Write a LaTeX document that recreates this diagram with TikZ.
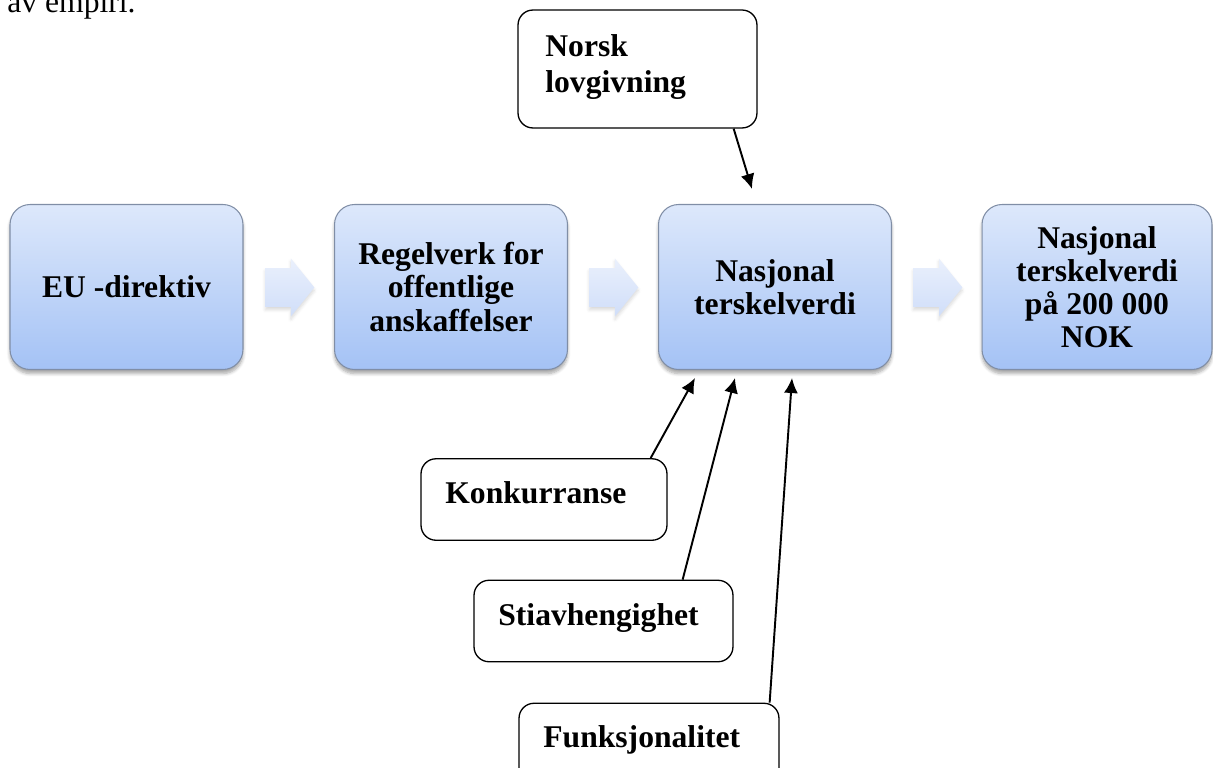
\documentclass[tikz,border=0pt]{standalone}
\usepackage{fontspec}
\setmainfont{Liberation Serif}
\usetikzlibrary{arrows.meta, positioning, shapes.arrows, shadows.blur, calc}
\definecolor{boxtop}{RGB}{221,232,251}
\definecolor{boxbot}{RGB}{164,194,245}
\definecolor{boxline}{RGB}{128,142,166}
\definecolor{arrtop}{RGB}{234,240,252}
\definecolor{arrbot}{RGB}{208,222,249}

\begin{document}
\begin{tikzpicture}[x=0.02cm,y=-0.02cm,
    every node/.style={font=\fontsize{18}{18.8}\selectfont\bfseries},
    stepbox/.style={draw=boxline,line width=0.6pt,rounded corners=0.4cm,top color=boxtop,bottom color=boxbot,
        minimum width=4.66cm,minimum height=3.3cm,align=center,
        blur shadow={shadow xshift=0pt,shadow yshift=-0.08cm,shadow blur steps=6,shadow opacity=35}},
    flowarrow/.style={single arrow,anchor=tail,inner xsep=0pt,inner ysep=0.38cm,minimum height=0.98cm,single arrow head extend=0.19cm,
        single arrow tip angle=102,draw=none,top color=arrtop,bottom color=arrbot,
        blur shadow={shadow xshift=0pt,shadow yshift=-0.06cm,shadow blur steps=4,shadow opacity=15}},
    factorbox/.style={draw,line width=0.75pt,rounded corners=0.3cm,minimum height=1.63cm},
    factor/.style={anchor=base west,inner sep=0pt},
    infl/.style={-{Latex[length=0.3cm,width=0.28cm]},line width=1.1pt}]
    \useasboundingbox (0,0) rectangle (1213,767);
    % line of text above the figure
    \node[anchor=base west,inner sep=0pt,font=\fontsize{18}{18.8}\selectfont\mdseries] (empiri) at (7,13) {av empiri.};
    % main chain
    \node[stepbox] (eu) at (126.5,287) {EU -direktiv};
    \node[stepbox] (regel) at (451,287) {Regelverk for\\offentlige\\anskaffelser};
    \node[stepbox] (nasj) at (775,287) {Nasjonal\\terskelverdi};
    \node[stepbox,minimum width=4.6cm] (verdi) at (1097,287) {Nasjonal\\terskelverdi\\på 200 000\\NOK};
    \node[flowarrow] (a1) at ($(eu.east)+(21.5,0.5)$) {};
    \node[flowarrow] (a2) at ($(regel.east)+(21,0.5)$) {};
    \node[flowarrow] (a3) at ($(nasj.east)+(21,0.5)$) {};
    % factors
    \node[factorbox,minimum width=4.78cm,minimum height=2.36cm] (norsk) at (637.5,69) {};
    \node[inner sep=0pt,anchor=north west,align=left,font=\fontsize{18}{20.4}\selectfont\bfseries] (norskT) at (545,34) {Norsk\\lovgivning};
    \node[factorbox,minimum width=4.92cm] (kon) at (544,499.5) {};
    \node[factor] (konT) at (445,503) {Konkurranse};
    \node[factorbox,minimum width=5.18cm] (stia) at (603.5,621) {};
    \node[factor] (stiaT) at (498,625) {Stiavhengighet};
    \node[factorbox,minimum width=5.2cm] (funk) at (649,744) {};
    \node[factor] (funkT) at (543,747) {Funksjonalitet};
    \draw[infl] ($(norsk.south east)+(-24,0)$) -- ($(nasj.north west)+(94,-15)$);
    \draw[infl] ($(kon.north east)+(-17,0)$) -- ($(nasj.south west)+(37,8)$);
    \draw[infl] ($(stia.north east)+(-51,0)$) -- ($(nasj.south west)+(77,8)$);
    \draw[infl] ($(funk.north east)+(-10,0)$) -- ($(nasj.south west)+(134,8)$);
\end{tikzpicture}
\end{document}
